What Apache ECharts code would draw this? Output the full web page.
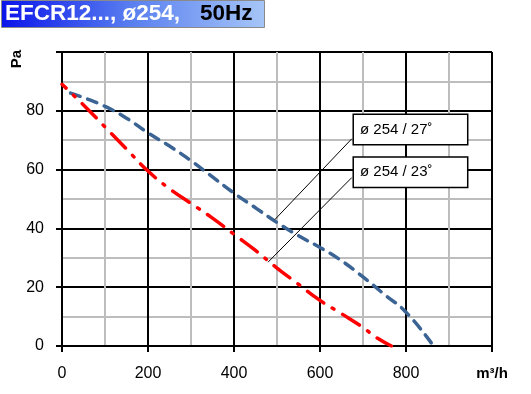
<!DOCTYPE html>
<html>
<head>
<meta charset="utf-8">
<script src="https://cdn.jsdelivr.net/npm/echarts@6/dist/echarts.min.js"></script>
<style>
  html, body { margin: 0; padding: 0; background: #fff; }
  #chart { width: 531px; height: 394px; }
</style>
</head>
<body>
<div id="chart"></div>
<script>
// curve values (m3/h, Pa)
const flow27 = [20, 50, 100, 150, 200, 250, 300, 350, 400, 450, 500, 550, 600, 650, 700, 750, 800, 864]
const pres27 = [86, 84.5, 81.5, 77.5, 72.5, 68, 63, 57.5, 52, 47, 42, 37.5, 33.5, 29, 23.5, 17.5, 11.5, 0]
const flow23 = [0, 50, 100, 150, 200, 250, 300, 350, 400, 450, 500, 550, 600, 650, 700, 730, 766]
const pres23 = [89, 82, 74.5, 67, 59.5, 53.5, 48.5, 43.5, 38, 32.5, 26.5, 21, 15.5, 11, 6.3, 3, 0]
const xTickLabels = ['0', '200', '400', '600', '800', '{u|m³/h}']
const yTickLabels = ['0', '20', '40', '60', '80', '']
const curveNames = ['ø 254 / 27˚', 'ø 254 / 23˚']

const FONT = '"Liberation Sans", Arial, sans-serif'

function pairs (xs, ys) {
  return xs.map((x, i) => [x, ys[i]])
}

function boxLabel (text, x, y) {
  return {
    coord: [x, y],
    symbol: 'circle',
    symbolSize: 0,
    label: {
      show: true,
      position: [0, 0],
      formatter: text,
      color: '#000',
      fontSize: 15,
      fontFamily: FONT,
      backgroundColor: '#fff',
      borderColor: '#000',
      borderWidth: 1.5,
      width: 101,
      padding: [7, 6, 7, 6],
      align: 'left',
      verticalAlign: 'top'
    }
  }
}

let chart = echarts.init(document.getElementById('chart'))

let option = {
  animation: false,
  grid: { left: 62, right: 39, top: 52, bottom: 48 },
  graphic: [
    {
      type: 'rect',
      left: 1, top: 0,
      shape: { width: 263, height: 27 },
      style: {
        fill: new echarts.graphic.LinearGradient(0, 0, 1, 0, [
          { offset: 0, color: '#0a14ea' },
          { offset: 0.5, color: '#5a80f0' },
          { offset: 1, color: '#a6c6f7' }
        ]),
        stroke: '#8a8a8a',
        lineWidth: 1
      }
    },
    {
      type: 'text', left: 5, top: 2,
      style: { text: 'EFCR12..., ø254,', fill: '#fff', font: 'bold 22.5px ' + FONT }
    },
    {
      type: 'text', left: 200, top: 2,
      style: { text: '50Hz', fill: '#000', font: 'bold 22.5px ' + FONT }
    },
    {
      type: 'text', left: 9, top: 50, rotation: Math.PI / 2,
      style: { text: 'Pa', fill: '#000', font: 'bold 15px ' + FONT }
    }
  ],
  xAxis: {
    type: 'value',
    min: 0, max: 1000, interval: 200,
    axisLine: { show: true, lineStyle: { color: '#000', width: 2 } },
    axisTick: { show: true, length: 6, lineStyle: { color: '#000', width: 2 } },
    axisLabel: {
      margin: 20, fontSize: 16, color: '#000', fontFamily: FONT,
      formatter: v => xTickLabels[Math.round(v / 200)],
      rich: { u: { fontSize: 15, fontWeight: 'bold', color: '#000', fontFamily: FONT } }
    },
    splitLine: { show: true, lineStyle: { color: '#000', width: 2 } },
    minorTick: { show: false, splitNumber: 2 },
    minorSplitLine: { show: true, lineStyle: { color: '#bdbdbd', width: 2 } }
  },
  yAxis: {
    type: 'value',
    min: 0, max: 100, interval: 20,
    axisLine: { show: true, lineStyle: { color: '#000', width: 2 } },
    axisTick: { show: true, length: 6, lineStyle: { color: '#000', width: 2 } },
    axisLabel: {
      margin: 18, fontSize: 16, color: '#000', fontFamily: FONT,
      formatter: v => yTickLabels[Math.round(v / 20)]
    },
    splitLine: { show: true, lineStyle: { color: '#000', width: 2 } },
    minorTick: { show: false, splitNumber: 2 },
    minorSplitLine: { show: true, lineStyle: { color: '#bdbdbd', width: 2 } }
  },
  series: [
    {
      name: curveNames[0],
      type: 'line',
      smooth: true,
      symbol: 'none',
      z: 3,
      lineStyle: { color: '#3b6494', width: 3.5, type: [10, 8], cap: 'round' },
      data: pairs(flow27, pres27),
      markLine: {
        silent: true,
        symbol: 'none',
        label: { show: false },
        lineStyle: { color: '#000', width: 1, type: 'solid' },
        data: [
          [{ coord: [674, 70.5] }, { coord: [495, 43] }],
          [{ coord: [674, 57.3] }, { coord: [479, 28.5] }]
        ]
      },
      markPoint: {
        silent: true,
        data: [
          boxLabel(curveNames[0], 679, 78.6),
          boxLabel(curveNames[1], 679, 64)
        ]
      }
    },
    {
      name: curveNames[1],
      type: 'line',
      smooth: true,
      symbol: 'none',
      z: 3,
      lineStyle: { color: '#ff0000', width: 3.5, type: [20, 10, 2, 10], dashOffset: 14, cap: 'round' },
      data: pairs(flow23, pres23)
    }
  ]
}

chart.setOption(option)
</script>
</body>
</html>
